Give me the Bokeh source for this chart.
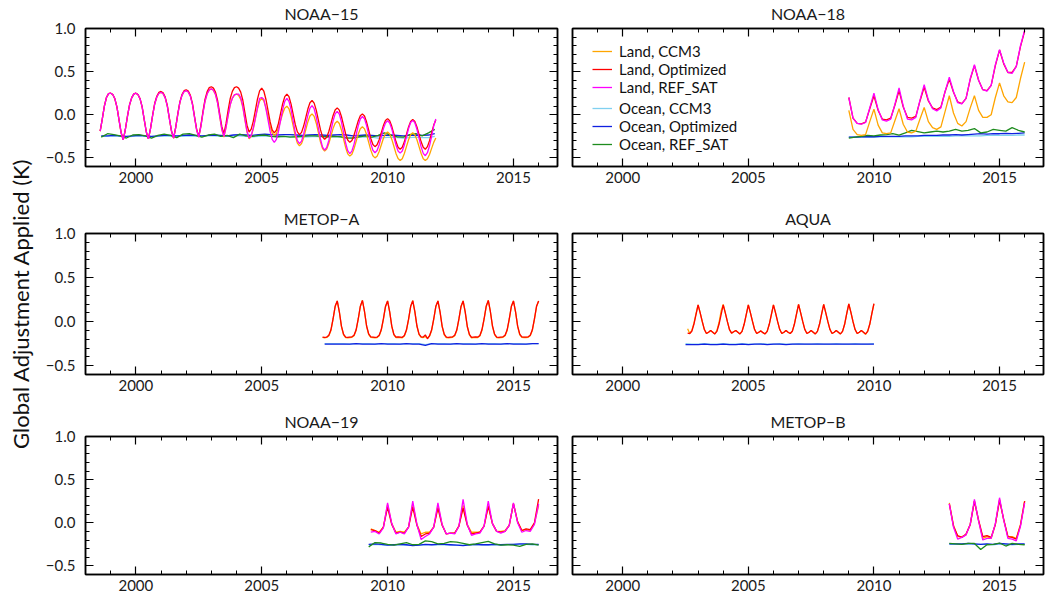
import numpy as np
from bokeh.plotting import figure
from bokeh.layouts import column, row
from bokeh.models import (Range1d, LinearAxis, FixedTicker, Legend, LegendItem, Label,
                          CustomLabelingPolicy)
from bokeh.embed import file_html
from bokeh.resources import INLINE

FONT = "Lato"

# ---------------- axes / ticks ----------------
X_START, X_END = 1998.0, 2016.75
Y_START, Y_END = -0.6, 1.0
X_MAJOR = [2000, 2005, 2010, 2015]
X_MINOR = [1998, 1999, 2000, 2001, 2002, 2003, 2004, 2005, 2006, 2007,
           2008, 2009, 2010, 2011, 2012, 2013, 2014, 2015, 2016]
X_TICK_LABELS = {2000: "2000", 2005: "2005", 2010: "2010", 2015: "2015"}
Y_MAJOR = [-0.5, 0.0, 0.5, 1.0]
Y_MINOR = [-0.6, -0.5, -0.4, -0.3, -0.2, -0.1, 0.0, 0.1, 0.2, 0.3,
           0.4, 0.5, 0.6, 0.7, 0.8, 0.9, 1.0]
Y_TICK_LABELS = {-0.5: "\u22120.5", 0.0: "0.0", 0.5: "0.5", 1.0: "1.0"}
Y_TITLE = "Global Adjustment Applied (K)"

SERIES = ["Land, CCM3", "Land, Optimized", "Land, REF_SAT",
          "Ocean, CCM3", "Ocean, Optimized", "Ocean, REF_SAT"]
COLORS = {"Land, CCM3": "#FFA500", "Land, Optimized": "#FF0000",
          "Land, REF_SAT": "#FF00FF", "Ocean, CCM3": "#80D0F0",
          "Ocean, Optimized": "#1020E0", "Ocean, REF_SAT": "#1E8C1E"}

MONTHLY = 1.0 / 12.0
BIMONTHLY = 1.0 / 6.0
QUARTERLY = 0.25

# ---------------- NOAA-15 (land monthly from Aug 1998) ----------------
n15_land_t0, n15_land_step = 1998.583, MONTHLY
n15_land_ccm3 = [-.19, -.05, .10, .20, .245,
    .25, .234, .185, .088, -.063, -.209, -.29, -.171, -.02, .115, .196, .239,
    .25, .234, .186, .091, -.057, -.20, -.28, -.161, -.01, .125, .206, .249,
    .26, .244, .196, .101, -.047, -.19, -.27, -.149, .005, .143, .225, .269,
    .28, .264, .215, .118, -.033, -.179, -.26, -.137, .02, .16, .244, .289,
    .30, .283, .233, .132, -.025, -.176, -.26, -.15, -.01, .115, .19, .23,
    .24, .224, .178, .084, -.062, -.202, -.28, -.249, -.163, -.045, .073, .159,
    .19, .161, .083, -.025, -.133, -.211, -.24, -.217, -.155, -.07, .015, .077,
    .10, .069, -.015, -.13, -.245, -.329, -.36, -.335, -.268, -.175, -.083, -.015,
    .01, -.019, -.098, -.205, -.313, -.391, -.42, -.397, -.334, -.248, -.161, -.098,
    -.075, -.102, -.176, -.278, -.379, -.453, -.48, -.457, -.395, -.31, -.225, -.163,
    -.14, -.164, -.23, -.32, -.41, -.476, -.50, -.48, -.425, -.35, -.275, -.22,
    -.20, -.222, -.283, -.365, -.448, -.508, -.53, -.509, -.45, -.37, -.29, -.231,
    -.21, -.231, -.29, -.37, -.45, -.509, -.53, -.51, -.46, -.39, -.32, -.27]
n15_land_opt = [-.19, -.05, .10, .20, .245,
    .25, .234, .185, .088, -.063, -.209, -.29, -.171, -.02, .115, .196, .239,
    .25, .234, .186, .091, -.057, -.20, -.28, -.159, -.005, .133, .215, .259,
    .27, .254, .205, .108, -.043, -.189, -.27, -.147, .01, .15, .234, .279,
    .29, .274, .225, .128, -.023, -.169, -.25, -.124, .038, .181, .268, .314,
    .325, .309, .26, .162, .009, -.138, -.22, -.10, .053, .189, .271, .314,
    .325, .309, .262, .168, .021, -.121, -.20, -.166, -.073, .055, .183, .276,
    .31, .275, .18, .05, -.08, -.175, -.21, -.18, -.098, .015, .128, .21,
    .24, .209, .123, .005, -.113, -.199, -.23, -.204, -.131, -.033, .066, .139,
    .165, .135, .053, -.06, -.173, -.255, -.285, -.261, -.194, -.103, -.011, .056,
    .08, .053, -.02, -.12, -.22, -.293, -.32, -.298, -.238, -.155, -.073, -.012,
    .01, -.015, -.085, -.18, -.275, -.345, -.37, -.348, -.289, -.208, -.126, -.067,
    -.045, -.069, -.134, -.223, -.311, -.376, -.40, -.377, -.314, -.228, -.142, -.079,
    -.056, -.079, -.142, -.228, -.314, -.377, -.40, -.37, -.30, -.21, -.12, -.06]
n15_land_ref = [-.19, -.05, .10, .20, .245,
    .25, .234, .185, .088, -.063, -.209, -.29, -.171, -.02, .115, .196, .239,
    .25, .234, .186, .091, -.057, -.20, -.28, -.161, -.01, .125, .206, .249,
    .26, .244, .196, .101, -.047, -.19, -.27, -.149, .005, .143, .225, .269,
    .28, .264, .215, .118, -.033, -.179, -.26, -.137, .02, .16, .244, .289,
    .30, .284, .234, .135, -.019, -.168, -.25, -.142, -.005, .118, .191, .23,
    .24, .238, .20, .10, -.05, -.19, -.27, -.239, -.153, -.035, .083, .19,
    .20, .18, .07, -.06, -.19, -.285, -.32, -.286, -.193, -.065, .063, .156,
    .19, .155, .059, -.073, -.204, -.30, -.335, -.306, -.225, -.115, -.005, .076,
    .105, .07, -.024, -.153, -.281, -.375, -.41, -.38, -.298, -.185, -.073, .01,
    .04, .007, -.083, -.205, -.328, -.417, -.45, -.421, -.343, -.235, -.128, -.049,
    -.02, -.048, -.125, -.23, -.335, -.412, -.44, -.415, -.348, -.255, -.163, -.095,
    -.07, -.095, -.164, -.258, -.351, -.42, -.445, -.42, -.35, -.255, -.16, -.09,
    -.065, -.092, -.168, -.27, -.373, -.448, -.475, -.44, -.36, -.25, -.13, -.05]
n15_ocean_t0, n15_ocean_step = 1998.625, QUARTERLY
n15_ocean_ccm3 = [-.25, -.25,
    -.245, -.25, -.255, -.25, -.245, -.25, -.255, -.25,
    -.245, -.25, -.25, -.25, -.245, -.25, -.25, -.245,
    -.245, -.25, -.25, -.245, -.245, -.25, -.255, -.25,
    -.245, -.25, -.255, -.25, -.25, -.255, -.26, -.255,
    -.25, -.255, -.26, -.255, -.255, -.26, -.265, -.26,
    -.255, -.26, -.27, -.265, -.26, -.265, -.27, -.265,
    -.26, -.265, -.265, -.25]
n15_ocean_opt = [-.245, -.245,
    -.24, -.245, -.25, -.245, -.24, -.245, -.25, -.245,
    -.24, -.24, -.245, -.24, -.235, -.24, -.245, -.24,
    -.235, -.24, -.245, -.235, -.23, -.235, -.24, -.23,
    -.225, -.23, -.235, -.23, -.23, -.235, -.24, -.235,
    -.23, -.235, -.24, -.235, -.23, -.235, -.245, -.24,
    -.235, -.24, -.245, -.24, -.235, -.24, -.245, -.24,
    -.235, -.24, -.235, -.22]
n15_ocean_ref = [-.26, -.22,
    -.23, -.245, -.27, -.235, -.23, -.245, -.27, -.24,
    -.225, -.24, -.265, -.225, -.22, -.24, -.26, -.235,
    -.225, -.25, -.24, -.265, -.225, -.245, -.25, -.24,
    -.235, -.25, -.255, -.25, -.26, -.255, -.25, -.245,
    -.245, -.25, -.255, -.25, -.255, -.27, -.27, -.255,
    -.245, -.26, -.24, -.21, -.235, -.255, -.26, -.23,
    -.22, -.245, -.21, -.17]

# ---------------- NOAA-18 (land bimonthly from Jan 2009) ----------------
n18_land_t0, n18_land_step = 2009.0, BIMONTHLY
n18_land_ccm3 = [.05, -.17, -.23, -.24, -.23, -.08,
    .065, -.12, -.21, -.22, -.21, -.07,
    .07, -.11, -.20, -.21, -.19, -.05,
    .085, -.08, -.15, -.17, -.14, .04,
    .22, .02, -.10, -.13, -.08, .08,
    .22, .05, -.03, -.03, .00, .20,
    .37, .22, .15, .14, .20, .42,
    .61]
n18_land_opt = [.20, -.04, -.10, -.105, -.085, .07,
    .22, .05, -.05, -.06, -.04, .11,
    .28, .09, -.03, -.04, -.02, .16,
    .32, .16, .08, .06, .09, .27,
    .41, .26, .15, .13, .19, .41,
    .57, .40, .29, .28, .34, .57,
    .75, .59, .49, .49, .56, .79,
    .97]
n18_land_ref = [.20, -.04, -.10, -.11, -.09, .08,
    .25, .06, -.06, -.075, -.05, .12,
    .31, .10, -.05, -.06, -.03, .17,
    .35, .17, .07, .045, .08, .27,
    .435, .27, .14, .125, .19, .42,
    .58, .40, .29, .275, .34, .58,
    .755, .60, .49, .48, .56, .80,
    .98]
n18_ocean_t0, n18_ocean_step = 2009.0, QUARTERLY
n18_ocean_ccm3 = [-.26, -.26, -.26, -.26, -.26, -.255, -.255, -.255, -.255, -.255,
    -.255, -.25, -.25, -.25, -.25, -.25, -.25, -.245, -.245, -.245,
    -.245, -.245, -.24, -.24, -.24, -.24, -.24, -.235, -.235]
n18_ocean_opt = [-.26, -.26, -.255, -.255, -.255, -.25, -.25, -.25, -.25, -.245,
    -.245, -.245, -.24, -.24, -.24, -.235, -.235, -.23, -.235, -.23,
    -.225, -.22, -.225, -.22, -.22, -.215, -.22, -.215, -.21]
n18_ocean_ref = [-.27, -.26, -.25, -.24, -.245, -.235, -.23, -.22, -.235, -.21,
    -.18, -.195, -.21, -.20, -.19, -.20, -.19, -.17, -.19, -.18,
    -.16, -.21, -.20, -.17, -.18, -.19, -.15, -.18, -.20]

# ---------------- METOP-A (land monthly from Jun 2007) ----------------
ma_land_t0, ma_land_step = 2007.417, MONTHLY
ma_land_ccm3 = [-.18, -.185, -.18, -.16, -.10, .025, .17,
    .235, .11, -.055, -.15, -.18, -.183, -.18, -.178, -.16, -.10, .025, .17,
    .24, .112, -.053, -.148, -.178, -.18, -.183, -.18, -.16, -.097, .025, .168,
    .235, .11, -.055, -.15, -.18, -.178, -.18, -.183, -.163, -.10, .022, .17,
    .238, .11, -.053, -.148, -.178, -.18, -.17, -.185, -.165, -.10, .025, .17,
    .235, .11, -.055, -.15, -.18, -.183, -.18, -.178, -.16, -.10, .025, .168,
    .235, .108, -.058, -.15, -.183, -.18, -.178, -.18, -.163, -.097, .025, .17,
    .24, .112, -.053, -.148, -.18, -.183, -.18, -.178, -.16, -.10, .025, .17,
    .235, .11, -.055, -.15, -.178, -.18, -.18, -.178, -.16, -.10, .025, .17,
    .235]
ma_land_opt = [-.175, -.18, -.175, -.155, -.093, .03, .174,
    .235, .112, -.052, -.142, -.175, -.178, -.175, -.172, -.155, -.093, .03, .174,
    .24, .115, -.05, -.14, -.172, -.175, -.178, -.175, -.155, -.09, .03, .172,
    .235, .112, -.052, -.145, -.175, -.172, -.175, -.178, -.158, -.093, .028, .174,
    .238, .113, -.05, -.142, -.172, -.175, -.15, -.195, -.16, -.093, .03, .174,
    .235, .112, -.052, -.142, -.175, -.178, -.175, -.172, -.155, -.093, .03, .172,
    .235, .11, -.055, -.145, -.178, -.175, -.172, -.175, -.158, -.09, .03, .174,
    .24, .115, -.05, -.142, -.175, -.178, -.175, -.172, -.155, -.093, .03, .174,
    .235, .112, -.052, -.142, -.172, -.175, -.175, -.172, -.155, -.093, .03, .174,
    .235]
ma_ocean_t0, ma_ocean_step = 2007.5, QUARTERLY
ma_ocean_ccm3 = [-.25, -.25,
    -.25, -.25, -.255, -.25, -.25, -.25, -.255, -.25,
    -.25, -.25, -.255, -.25, -.25, -.25, -.26, -.25,
    -.25, -.25, -.255, -.25, -.25, -.25, -.255, -.25,
    -.25, -.25, -.255, -.25, -.25, -.25, -.255, -.25,
    -.25]
ma_ocean_opt = [-.255, -.255,
    -.255, -.255, -.255, -.25, -.255, -.255, -.255, -.25,
    -.255, -.255, -.255, -.25, -.255, -.255, -.27, -.25,
    -.255, -.255, -.255, -.25, -.255, -.255, -.255, -.25,
    -.255, -.255, -.255, -.25, -.255, -.255, -.255, -.25,
    -.25]

# ---------------- AQUA (land monthly from Aug 2002) ----------------
aq_land_t0, aq_land_step = 2002.583, MONTHLY
aq_land_ccm3 = [-.08, -.135, -.10, -.02, .09,
    .19, .10, .00, -.09, -.135, -.12, -.10, -.12, -.14, -.10, -.01, .12,
    .195, .10, .00, -.09, -.13, -.115, -.10, -.12, -.14, -.11, -.03, .08,
    .19, .10, .005, -.09, -.135, -.12, -.105, -.125, -.14, -.11, -.03, .08,
    .19, .10, .00, -.09, -.135, -.12, -.10, -.12, -.135, -.11, -.025, .085,
    .195, .10, .00, -.09, -.135, -.12, -.10, -.12, -.14, -.11, -.03, .085,
    .195, .10, .00, -.09, -.135, -.12, -.10, -.12, -.14, -.11, -.03, .09,
    .20, .105, .00, -.09, -.135, -.12, -.10, -.12, -.145, -.11, -.03, .09,
    .20]
aq_land_opt = [-.13, -.135, -.11, -.03, .08,
    .19, .10, .00, -.09, -.135, -.12, -.10, -.12, -.14, -.11, -.03, .08,
    .19, .10, .00, -.09, -.13, -.115, -.10, -.12, -.14, -.11, -.03, .08,
    .19, .10, .00, -.09, -.135, -.12, -.105, -.125, -.14, -.11, -.03, .08,
    .19, .10, .00, -.09, -.135, -.12, -.10, -.12, -.135, -.11, -.03, .085,
    .195, .10, .00, -.09, -.135, -.12, -.10, -.12, -.14, -.11, -.03, .085,
    .195, .10, .00, -.09, -.135, -.12, -.10, -.12, -.14, -.11, -.03, .09,
    .20, .105, .00, -.09, -.135, -.12, -.10, -.12, -.14, -.11, -.03, .09,
    .205]
aq_ocean_t0, aq_ocean_step = 2002.5, QUARTERLY
aq_ocean_ccm3 = [-.25, -.255,
    -.255, -.25, -.255, -.255, -.25, -.255, -.255, -.25,
    -.255, -.255, -.25, -.255, -.255, -.25, -.255, -.255,
    -.25, -.255, -.255, -.25, -.255, -.255, -.25, -.255,
    -.255, -.25, -.255, -.255, -.25]
aq_ocean_opt = [-.26, -.26,
    -.26, -.255, -.26, -.26, -.255, -.26, -.26, -.255,
    -.26, -.255, -.255, -.26, -.255, -.255, -.26, -.255,
    -.255, -.255, -.255, -.255, -.255, -.255, -.255, -.255,
    -.255, -.255, -.255, -.255, -.255]

# ---------------- NOAA-19 (land bimonthly from May 2009) ----------------
n19_land_t0, n19_land_step = 2009.333, BIMONTHLY
n19_land_ccm3 = [-.07, -.09, -.11, -.05,
    .21, -.01, -.11, -.10, -.11, -.05,
    .22, -.02, -.13, -.11, -.11, -.05,
    .20, -.02, -.13, -.12, -.12, -.04,
    .20, -.02, -.11, -.11, -.11, -.04,
    .20, -.01, -.10, -.10, -.09, -.03,
    .225, .01, -.09, -.08, -.09, -.01,
    .20]
n19_land_opt = [-.08, -.09, -.12, -.05,
    .18, -.02, -.12, -.11, -.12, -.05,
    .18, -.03, -.16, -.13, -.12, -.05,
    .17, -.03, -.13, -.12, -.12, -.04,
    .17, -.03, -.13, -.12, -.11, -.04,
    .19, -.01, -.10, -.11, -.10, -.03,
    .22, .01, -.09, -.07, -.08, .00,
    .275]
n19_land_ref = [-.11, -.10, -.13, -.06,
    .23, -.01, -.13, -.11, -.13, -.05,
    .25, -.02, -.195, -.16, -.13, -.05,
    .23, -.02, -.13, -.12, -.13, -.04,
    .27, -.02, -.145, -.13, -.12, -.04,
    .25, -.01, -.10, -.12, -.10, -.03,
    .23, .00, -.11, -.09, -.10, -.02,
    .22]
n19_ocean_t0, n19_ocean_step = 2009.25, QUARTERLY
n19_ocean_ccm3 = [-.255, -.25, -.255, -.26, -.255, -.255, -.26, -.26, -.26, -.255,
    -.255, -.255, -.255, -.26, -.26, -.26, -.255, -.255, -.255, -.26,
    -.255, -.255, -.255, -.25, -.25, -.25, -.255, -.255]
n19_ocean_opt = [-.25, -.245, -.25, -.26, -.255, -.25, -.255, -.265, -.26, -.25,
    -.255, -.25, -.25, -.255, -.26, -.265, -.255, -.25, -.255, -.255,
    -.25, -.255, -.25, -.25, -.245, -.245, -.25, -.25]
n19_ocean_ref = [-.28, -.23, -.235, -.25, -.26, -.245, -.23, -.255, -.25, -.21,
    -.22, -.245, -.24, -.22, -.225, -.24, -.255, -.245, -.23, -.215,
    -.245, -.26, -.255, -.26, -.275, -.25, -.245, -.26]

# ---------------- METOP-B (land bimonthly from Jan 2013) ----------------
mb_land_t0, mb_land_step = 2013.0, BIMONTHLY
mb_land_ccm3 = [.23, -.03, -.16, -.16, -.14, -.02,
    .25, .02, -.18, -.16, -.18, -.02,
    .27, .03, -.16, -.16, -.18, -.02,
    .25]
mb_land_opt = [.22, -.04, -.15, -.17, -.13, -.02,
    .25, .03, -.16, -.15, -.17, -.02,
    .26, .04, -.16, -.17, -.19, -.03,
    .25]
mb_land_ref = [.22, -.05, -.19, -.17, -.14, -.02,
    .27, .02, -.20, -.18, -.18, -.01,
    .29, .03, -.18, -.19, -.21, -.04,
    .23]
mb_ocean_t0, mb_ocean_step = 2013.0, QUARTERLY
mb_ocean_ccm3 = [-.25, -.25, -.25, -.245, -.25, -.25, -.25, -.255, -.245, -.25, -.255, -.25, -.25]
mb_ocean_opt = [-.245, -.245, -.245, -.24, -.245, -.25, -.245, -.25, -.24, -.245, -.25, -.245, -.245]
mb_ocean_ref = [-.24, -.245, -.25, -.24, -.24, -.31, -.255, -.25, -.235, -.27, -.24, -.25, -.255]

PANELS = [
    ("NOAA\u221215", (n15_land_t0, n15_land_step),
     {"Land, CCM3": n15_land_ccm3, "Land, Optimized": n15_land_opt, "Land, REF_SAT": n15_land_ref},
     (n15_ocean_t0, n15_ocean_step),
     {"Ocean, CCM3": n15_ocean_ccm3, "Ocean, Optimized": n15_ocean_opt, "Ocean, REF_SAT": n15_ocean_ref}),
    ("NOAA\u221218", (n18_land_t0, n18_land_step),
     {"Land, CCM3": n18_land_ccm3, "Land, Optimized": n18_land_opt, "Land, REF_SAT": n18_land_ref},
     (n18_ocean_t0, n18_ocean_step),
     {"Ocean, CCM3": n18_ocean_ccm3, "Ocean, Optimized": n18_ocean_opt, "Ocean, REF_SAT": n18_ocean_ref}),
    ("METOP\u2212A", (ma_land_t0, ma_land_step),
     {"Land, CCM3": ma_land_ccm3, "Land, Optimized": ma_land_opt},
     (ma_ocean_t0, ma_ocean_step),
     {"Ocean, CCM3": ma_ocean_ccm3, "Ocean, Optimized": ma_ocean_opt}),
    ("AQUA", (aq_land_t0, aq_land_step),
     {"Land, CCM3": aq_land_ccm3, "Land, Optimized": aq_land_opt},
     (aq_ocean_t0, aq_ocean_step),
     {"Ocean, CCM3": aq_ocean_ccm3, "Ocean, Optimized": aq_ocean_opt}),
    ("NOAA\u221219", (n19_land_t0, n19_land_step),
     {"Land, CCM3": n19_land_ccm3, "Land, Optimized": n19_land_opt, "Land, REF_SAT": n19_land_ref},
     (n19_ocean_t0, n19_ocean_step),
     {"Ocean, CCM3": n19_ocean_ccm3, "Ocean, Optimized": n19_ocean_opt, "Ocean, REF_SAT": n19_ocean_ref}),
    ("METOP\u2212B", (mb_land_t0, mb_land_step),
     {"Land, CCM3": mb_land_ccm3, "Land, Optimized": mb_land_opt, "Land, REF_SAT": mb_land_ref},
     (mb_ocean_t0, mb_ocean_step),
     {"Ocean, CCM3": mb_ocean_ccm3, "Ocean, Optimized": mb_ocean_opt, "Ocean, REF_SAT": mb_ocean_ref}),
]

LABEL_W = 42
ROW_H = [205, 203, 189]
ROW_TOP = [26, 28, 26]
ROW_BOTTOM = [39, 34, 23]
DRAW_ORDER = ["Ocean, CCM3", "Ocean, Optimized", "Ocean, REF_SAT",
              "Land, CCM3", "Land, Optimized", "Land, REF_SAT"]

HIDE_ALL = "for (const i of indices) { indices.unset(i) }\nreturn indices"


def style_axis(ax, labels):
    ax.axis_line_color = "black"
    ax.axis_line_width = 1.5
    ax.major_tick_in = 8
    ax.major_tick_out = 0
    ax.minor_tick_in = 4
    ax.minor_tick_out = 0
    ax.major_tick_line_color = "black"
    ax.major_tick_line_width = 1.2
    ax.minor_tick_line_color = "black"
    ax.minor_tick_line_width = 1
    ax.major_label_text_font = FONT
    ax.major_label_text_color = "#1a1a1a"
    if labels:
        ax.major_label_text_font_size = "15px"
    else:
        # ticks only: no label is drawn, and the label slot is made tiny
        ax.major_label_policy = CustomLabelingPolicy(code=HIDE_ALL)
        ax.major_label_text_font_size = "1px"
        ax.major_label_standoff = 0


def build_panel(idx):
    name, (land_t0, land_step), land, (ocean_t0, ocean_step), ocean = PANELS[idx]
    r, c = divmod(idx, 2)
    p = figure(width=(564 - LABEL_W) if c == 0 else 484, height=ROW_H[r],
               x_range=Range1d(X_START, X_END), y_range=Range1d(Y_START, Y_END),
               output_backend="svg", toolbar_location=None,
               min_border_left=(84 - LABEL_W) if c == 0 else 8,
               min_border_right=7 if c == 0 else 3,
               min_border_top=ROW_TOP[r], min_border_bottom=ROW_BOTTOM[r])
    p.title.text = name
    p.title.align = "center"
    p.title.text_font = FONT
    p.title.text_font_size = "16px"
    p.title.text_font_style = "normal"
    p.title.text_color = "#1a1a1a"
    p.title.standoff = 2
    p.grid.visible = False
    p.outline_line_color = "black"
    p.outline_line_width = 1.5

    p.xaxis.ticker = FixedTicker(ticks=X_MAJOR, minor_ticks=X_MINOR)
    p.yaxis.ticker = FixedTicker(ticks=Y_MAJOR, minor_ticks=Y_MINOR)
    p.xaxis.major_label_overrides = X_TICK_LABELS
    p.yaxis.major_label_overrides = Y_TICK_LABELS
    for ax in p.xaxis:
        style_axis(ax, True)
        ax.major_label_standoff = 5
    for ax in p.yaxis:
        style_axis(ax, c == 0)
        if c == 0:
            ax.major_label_standoff = 10
    top = LinearAxis(ticker=FixedTicker(ticks=X_MAJOR, minor_ticks=X_MINOR))
    style_axis(top, False)
    p.add_layout(top, "above")
    right = LinearAxis(ticker=FixedTicker(ticks=Y_MAJOR, minor_ticks=Y_MINOR))
    style_axis(right, False)
    p.add_layout(right, "right")

    rends = {}
    for key in DRAW_ORDER:
        if key in land:
            vals = land[key]
            t = land_t0 + land_step * np.arange(len(vals))
        elif key in ocean:
            vals = ocean[key]
            t = ocean_t0 + ocean_step * np.arange(len(vals))
        else:
            continue
        rends[key] = p.line(t, vals, line_color=COLORS[key], line_width=1.3)
    return p, rends


figs = []
all_rends = []
for i in range(6):
    f, rd = build_panel(i)
    figs.append(f)
    all_rends.append(rd)

# legend in NOAA-18 panel
rd = all_rends[1]
leg_kw = dict(border_line_color=None, background_fill_alpha=0, padding=0, margin=0,
              spacing=0, glyph_width=20, glyph_height=14, label_height=14,
              label_standoff=7, label_text_font=FONT, label_text_font_size="15px",
              label_text_color="#111111")
leg_land = Legend(items=[LegendItem(label=k, renderers=[rd[k]]) for k in SERIES[:3]],
                  location=(20, 70), **leg_kw)
leg_ocean = Legend(items=[LegendItem(label=k, renderers=[rd[k]]) for k in SERIES[3:]],
                   location=(20, 13), **leg_kw)
figs[1].add_layout(leg_land)
figs[1].add_layout(leg_ocean)

# shared y-axis title in its own narrow strip
lab = figure(width=LABEL_W, height=597, x_range=Range1d(0, LABEL_W), y_range=Range1d(0, 597),
             output_backend="svg", toolbar_location=None, title=None,
             x_axis_type=None, y_axis_type=None, min_border=0)
lab.outline_line_color = None
lab.grid.visible = False
lab.add_layout(Label(x=20, y=294, text=Y_TITLE, angle=np.pi / 2, text_align="center",
                     text_baseline="middle", text_font=FONT, text_font_size="22px",
                     text_color="#111111"))

grid = column(row(figs[0], figs[1]), row(figs[2], figs[3]), row(figs[4], figs[5]))
layout = row(lab, grid)
open("out.html", "w").write(file_html(layout, INLINE))
